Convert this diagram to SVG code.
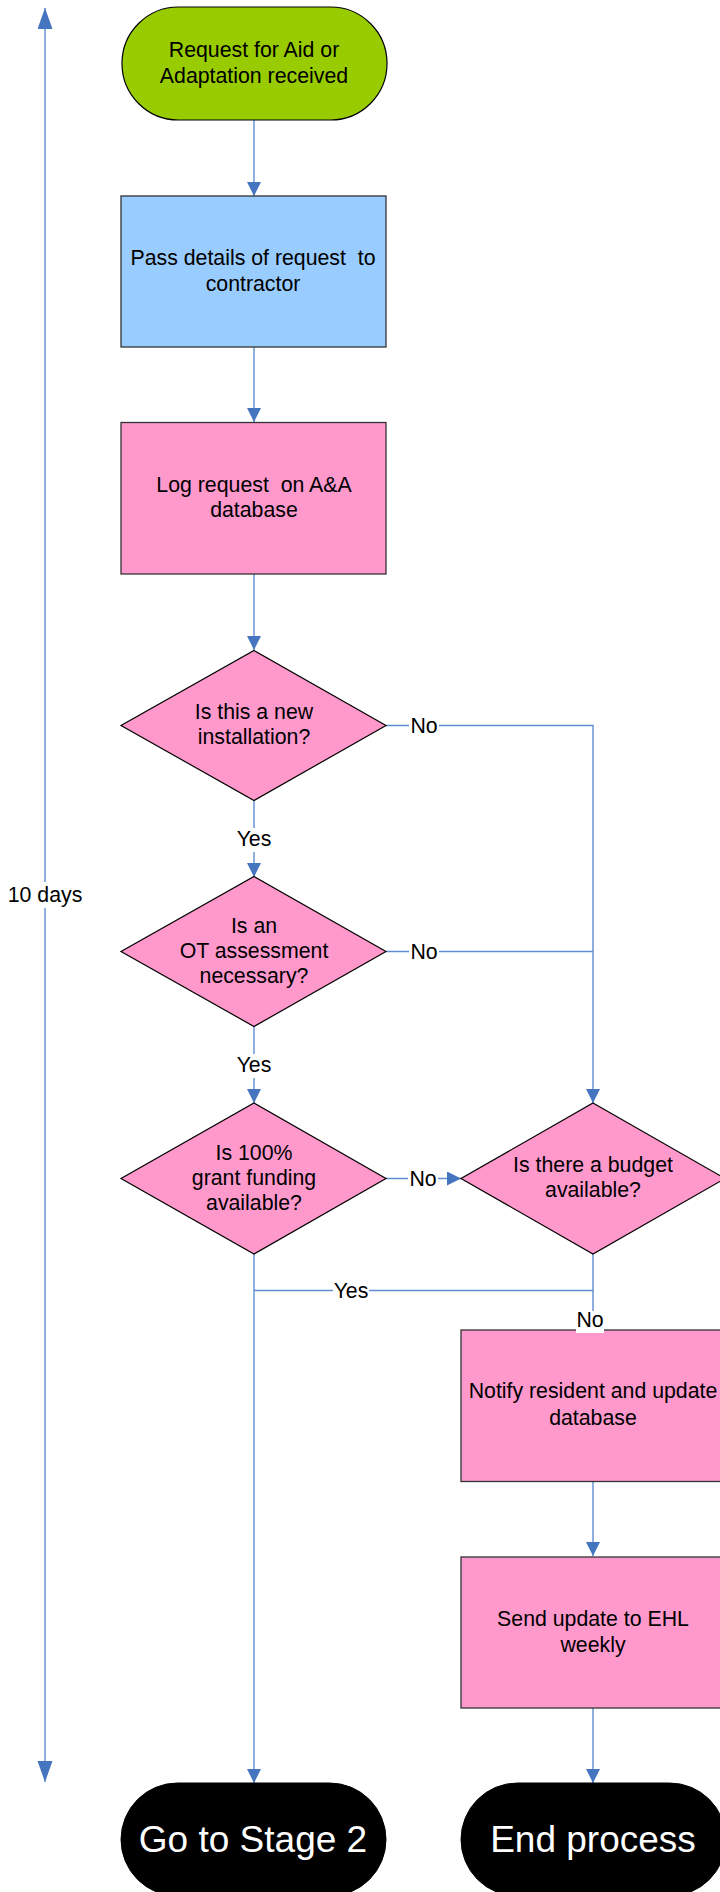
<svg xmlns="http://www.w3.org/2000/svg" width="720" height="1892" viewBox="0 0 720 1892">
<style>
text{font-family:"Liberation Sans",Arial,sans-serif;font-size:21.3px;fill:#000;text-anchor:middle}
.box{fill:#FF99CC;stroke:#333;stroke-width:1.3}
.dia{fill:#FF99CC;stroke:#000;stroke-width:1.2}
.term{fill:#000;stroke:#000}
.conn{fill:none;stroke:#5F8DD3;stroke-width:1.4}
.lbl{fill:#fff}
.big{font-size:37px;fill:#fff}
</style>
<defs>
<marker id="ah" markerUnits="userSpaceOnUse" markerWidth="15" markerHeight="15" refX="14" refY="7" orient="auto">
<path d="M0,0 L14,7 L0,14 z" fill="#4675C0"/>
</marker>
<marker id="ahL" markerUnits="userSpaceOnUse" markerWidth="22" markerHeight="16" refX="21" refY="7.5" orient="auto">
<path d="M0,0 L21,7.5 L0,15 z" fill="#4675C0"/>
</marker>
</defs>

<g id="timeline">
<path class="conn" d="M45,882 V8" marker-end="url(#ahL)"/>
<path class="conn" d="M45,908 V1782" marker-end="url(#ahL)"/>
<text x="45" y="902">10 days</text>
</g>

<g id="connectors">
<path class="conn" d="M254,120 V196" marker-end="url(#ah)"/>
<path class="conn" d="M254,347 V422" marker-end="url(#ah)"/>
<path class="conn" d="M254,574 V650" marker-end="url(#ah)"/>
<path class="conn" d="M254,800 V877" marker-end="url(#ah)"/>
<path class="conn" d="M254,1027 V1103" marker-end="url(#ah)"/>
<path class="conn" d="M386,725.5 H593 V1103" marker-end="url(#ah)"/>
<path class="conn" d="M386,951.5 H593"/>
<path class="conn" d="M386,1178.5 H461" marker-end="url(#ah)"/>
<path class="conn" d="M254,1254 V1783" marker-end="url(#ah)"/>
<path class="conn" d="M593,1254 V1290.5 H254"/>
<path class="conn" d="M593,1290.5 V1330"/>
<path class="conn" d="M593,1482 V1556" marker-end="url(#ah)"/>
<path class="conn" d="M593,1708 V1783" marker-end="url(#ah)"/>
<rect class="lbl" x="236" y="828" width="36" height="24"/>
<text x="254" y="846">Yes</text>
<rect class="lbl" x="236" y="1054" width="36" height="24"/>
<text x="254" y="1072">Yes</text>
<rect class="lbl" x="409" y="714" width="30" height="22"/>
<text x="424" y="733">No</text>
<rect class="lbl" x="409" y="940" width="30" height="22"/>
<text x="424" y="959">No</text>
<rect class="lbl" x="408" y="1167" width="30" height="22"/>
<text x="423" y="1186">No</text>
<rect class="lbl" x="333" y="1279" width="36" height="22"/>
<text x="351" y="1298">Yes</text>
</g>

<g id="start">
<rect x="122" y="7" width="265" height="113" rx="56.5" fill="#99CC00" stroke="#000" stroke-width="1.2"/>
<text x="254" y="57">Request for Aid or</text>
<text x="254" y="83">Adaptation received</text>
</g>

<g id="pass-details">
<rect x="121" y="196" width="265" height="151" fill="#99CCFF" stroke="#333" stroke-width="1.3"/>
<text x="253" y="265" xml:space="preserve">Pass details of request  to</text>
<text x="253" y="291">contractor</text>
</g>

<g id="log-request">
<rect class="box" x="121" y="422.5" width="265" height="151.5"/>
<text x="254" y="492" xml:space="preserve">Log request  on A&amp;A</text>
<text x="254" y="517">database</text>
</g>

<g id="new-installation">
<polygon class="dia" points="254,650.5 386,725.5 254,800.5 121,725.5"/>
<text x="254" y="719">Is this a new</text>
<text x="254" y="744">installation?</text>
</g>

<g id="ot-assessment">
<polygon class="dia" points="254,876.5 386,951.5 254,1026.5 121,951.5"/>
<text x="254" y="933">Is an</text>
<text x="254" y="958">OT assessment</text>
<text x="254" y="983">necessary?</text>
</g>

<g id="grant-funding">
<polygon class="dia" points="254,1103 386,1178.5 254,1254 121,1178.5"/>
<text x="254" y="1160">Is 100%</text>
<text x="254" y="1185">grant funding</text>
<text x="254" y="1210">available?</text>
</g>

<g id="budget">
<polygon class="dia" points="593,1103 725,1178.5 593,1254 461,1178.5"/>
<text x="593" y="1172">Is there a budget</text>
<text x="593" y="1197">available?</text>
</g>

<g id="notify">
<rect class="box" x="461" y="1330" width="265" height="151.5"/>
<text x="593" y="1398">Notify resident and update</text>
<text x="593" y="1425">database</text>
</g>

<g id="no-label-budget">
<rect class="lbl" x="576" y="1311" width="28" height="22"/>
<text x="590" y="1327">No</text>
</g>

<g id="send-update">
<rect class="box" x="461" y="1557" width="265" height="151"/>
<text x="593" y="1626">Send update to EHL</text>
<text x="593" y="1652">weekly</text>
</g>

<g id="stage2">
<rect class="term" x="121" y="1783" width="265" height="113" rx="56.5"/>
<text class="big" x="253" y="1852">Go to Stage 2</text>
</g>

<g id="end">
<rect class="term" x="461" y="1783" width="265" height="113" rx="56.5"/>
<text class="big" x="593" y="1852">End process</text>
</g>
</svg>
